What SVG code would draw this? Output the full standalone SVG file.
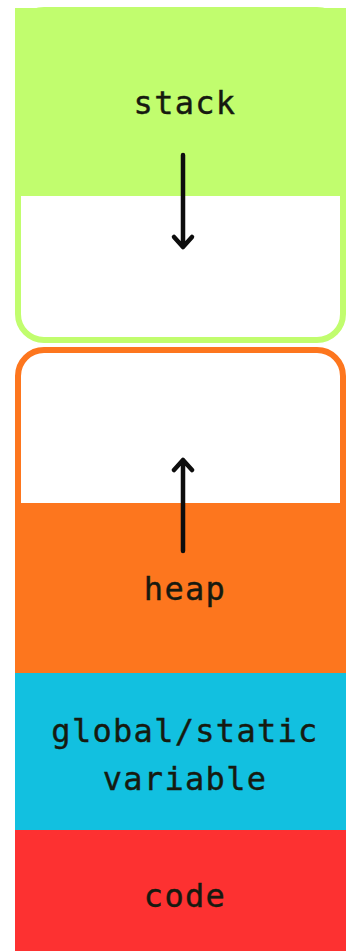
<svg xmlns="http://www.w3.org/2000/svg" width="346" height="951" viewBox="0 0 346 951">
<style>
.lbl{font-family:"DejaVu Sans Mono","Liberation Mono",monospace;font-size:32px;letter-spacing:1.3px;fill:#161a10;text-anchor:middle;stroke:#161a10;stroke-width:0.4}
.arr{stroke:#0d0d0d;stroke-width:4.5;fill:none;stroke-linecap:round;stroke-linejoin:round}
</style>
<rect width="346" height="951" fill="#ffffff"/>
<g id="stack">
<rect x="18" y="10" width="325" height="330" rx="26" fill="#ffffff" stroke="#c1fd6e" stroke-width="6"/>
<rect x="15" y="8" width="331" height="188" fill="#c1fd6e"/>
<text class="lbl" x="185" y="114">stack</text>
</g>
<g id="heap">
<rect x="18" y="350" width="325" height="330" rx="26" fill="#ffffff" stroke="#fd761e" stroke-width="6"/>
<rect x="15" y="503" width="331" height="171" fill="#fd761e"/>
<text class="lbl" x="185" y="600">heap</text>
</g>
<g id="global">
<rect x="15" y="673" width="331" height="158" fill="#12c0e0"/>
<text class="lbl" x="185" y="742">global/static</text>
<text class="lbl" x="185" y="790">variable</text>
</g>
<g id="code">
<rect x="15" y="830" width="331" height="121" fill="#fd3131"/>
<text class="lbl" x="185" y="907">code</text>
</g>
<g id="connectors">
<path class="arr" d="M183 155 V247 M174 237 L183 247 L192 237"/>
<path class="arr" d="M183 551 V460 M174 470 L183 460 L192 470"/>
</g>
</svg>
